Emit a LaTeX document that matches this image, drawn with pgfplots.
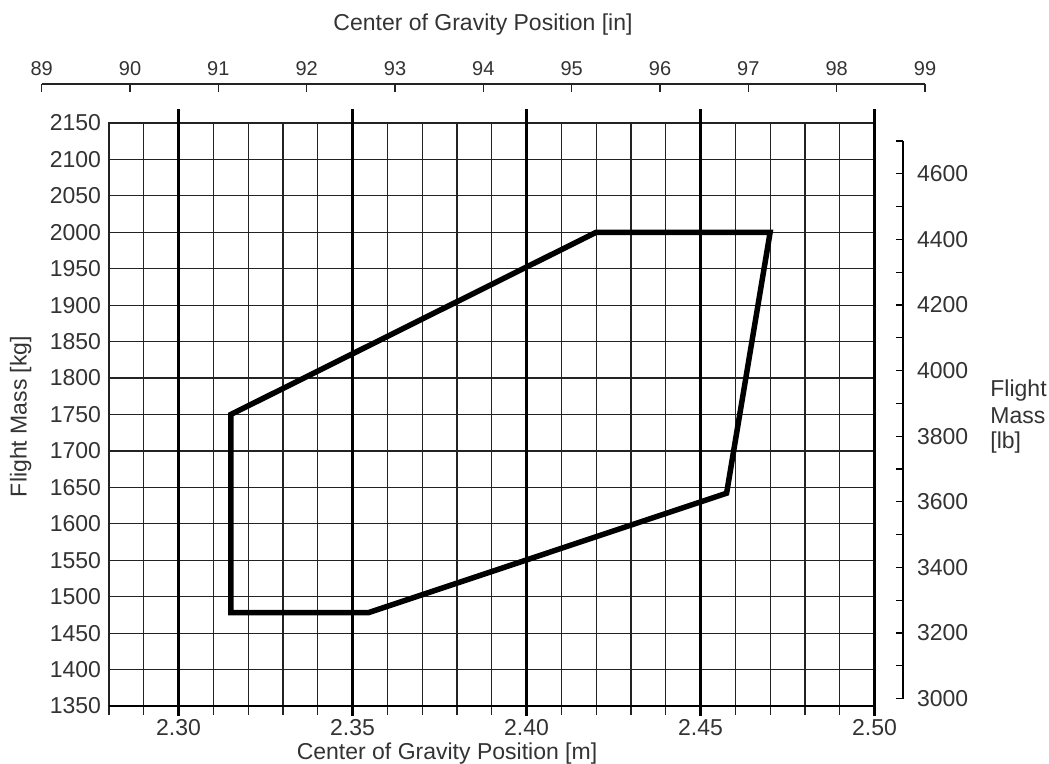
\documentclass[border=0pt]{standalone}
\usepackage{fontspec}
\setmainfont{Liberation Sans}
\usepackage{pgfplots}
\pgfplotsset{compat=1.18}
\definecolor{txt}{RGB}{51,51,51}
\definecolor{gridc}{RGB}{35,35,35}

\begin{document}
\fontsize{11.5pt}{13pt}\selectfont
\begin{tikzpicture}
% main axis (m / kg)
\begin{axis}[
  at={(54.5pt,29pt)}, anchor=south west,
  scale only axis, width=382.75pt, height=291.5pt,
  xmin=2.28, xmax=2.50, ymin=1350, ymax=2150,
  clip=false,
  xtick={2.30,2.35,2.40,2.45,2.50},
  xticklabels={2.30,2.35,2.40,2.45,2.50},
  minor xtick={2.28,2.29,2.30,2.31,2.32,2.33,2.34,2.35,2.36,2.37,2.38,2.39,2.40,2.41,2.42,2.43,2.44,2.45,2.46,2.47,2.48,2.49,2.50},
  ytick={1350,1400,...,2150},
  /pgf/number format/1000 sep={},
  /pgf/number format/assume math mode=true,
  xtick align=outside, ytick align=inside,
  xtick pos=left, ytick pos=left,
  major tick length=4.5pt, minor tick length=4.5pt,
  xtick style={line width=0.6pt, draw=gridc},
  minor x tick style={line width=0.6pt, draw=gridc},
  ytick style={draw=none},
  ymajorgrids=true, xminorgrids=true, xmajorgrids=false,
  grid style={line width=0.6pt, gridc},
  axis line style={line width=0.6pt, gridc},
  tick label style={font=\fontsize{11.5pt}{13pt}\selectfont, text=txt},
  xticklabel style={yshift=2pt},
]
\pgfplotsinvokeforeach{2.30,2.35,2.40,2.45,2.50}{
  \draw[line width=1.4pt, black] (axis cs:#1,1336.3) -- (axis cs:#1,2169.2);
}
\draw[line width=1.4pt, black] (axis cs:2.28,1350) -- (axis cs:2.50,1350);
\addplot[line width=2.75pt, black, no markers, line join=miter]
  coordinates {(2.315,1750) (2.42,2000) (2.47,2000) (2.4575,1642) (2.3545,1478) (2.315,1478)} -- cycle;
\end{axis}

% top axis (in)
\begin{axis}[
  at={(20.85pt,340pt)}, anchor=north west,
  scale only axis, width=441.65pt, height=10pt,
  xmin=89, xmax=99, ymin=0, ymax=1,
  axis x line=top, axis y line=none,
  axis line style={-, line width=0.6pt, gridc},
  xtick={89,90,...,99},
  xtick align=inside,
  major tick length=4pt,
  xtick style={line width=0.6pt, gridc},
  xticklabel style={font=\fontsize{10pt}{11pt}\selectfont, text=txt},
  /pgf/number format/assume math mode=true,
]
\end{axis}

% right axis (lb)
\begin{axis}[
  at={(451.5pt,32.65pt)}, anchor=south east,
  scale only axis, width=10pt, height=278.85pt,
  xmin=0, xmax=1, ymin=3000, ymax=4700,
  axis y line=right, axis x line=none,
  axis line style={-, line width=0.6pt, black},
  ytick={3000,3200,...,4600},
  minor ytick={3100,3300,...,4700},
  ytick align=inside,
  major tick length=3.5pt, minor tick length=3.5pt,
  ytick style={line width=0.6pt, black},
  minor y tick style={line width=0.6pt, black},
  yticklabel style={font=\fontsize{11.5pt}{13pt}\selectfont, text=txt, xshift=3pt},
  /pgf/number format/1000 sep={},
  /pgf/number format/assume math mode=true,
]
\end{axis}

% axis titles
\node[anchor=base, inner sep=0, text=txt] at (223.5pt,2.2pt) {Center of Gravity Position [m]};
\node[anchor=base, inner sep=0, text=txt] at (241.5pt,366.9pt) {Center of Gravity Position [in]};
\node[rotate=90, anchor=base, inner sep=0, text=txt] at (13.25pt,173.75pt) {Flight Mass [kg]};
\node[anchor=base west, inner sep=0, text=txt] at (495pt,183.65pt) {Flight};
\node[anchor=base west, inner sep=0, text=txt] at (495pt,170.35pt) {Mass};
\node[anchor=base west, inner sep=0, text=txt] at (495pt,157.85pt) {[lb]};

\pgfresetboundingbox
\path[use as bounding box] (0pt,0pt) rectangle (524.5pt,382pt);
\end{tikzpicture}
\end{document}
